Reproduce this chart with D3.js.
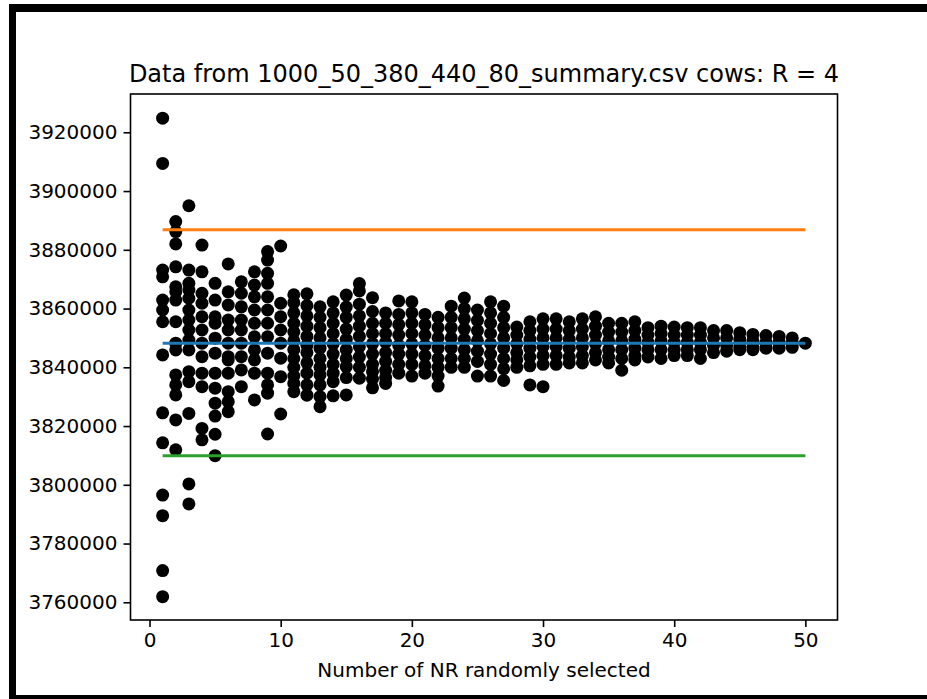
<!DOCTYPE html>
<html>
<head>
<meta charset="utf-8">
<script src="https://cdn.jsdelivr.net/npm/d3@7/dist/d3.min.js"></script>
<style>
  html, body { margin: 0; padding: 0; background: #fff; }
  svg { display: block; }
  text { font-family: "DejaVu Sans", sans-serif; fill: #000; }
</style>
</head>
<body>
<svg id="chart" width="927" height="699"></svg>
<script>
// Number of NR animals drawn in each sampling round
const nrSelected = d3.range(1, 51);

// Summary value of every sampling run, grouped by the number of NR selected
const runValues = [
  [3924800, 3909400, 3873100, 3870800, 3862900, 3859500, 3855500, 3844200, 3824500, 3814300, 3796500, 3789500, 3770800, 3761900],
  [3889600, 3886200, 3882000, 3874200, 3867400, 3865700, 3862900, 3855500, 3848200, 3845900, 3837400, 3834000, 3830600, 3822100, 3811900],
  [3895000, 3873100, 3868600, 3866300, 3863500, 3859500, 3856100, 3852700, 3849300, 3845900, 3838500, 3835100, 3824300, 3800300, 3793500],
  [3881600, 3872500, 3865200, 3861800, 3857200, 3852700, 3848200, 3843600, 3838000, 3833400, 3819200, 3815300],
  [3868600, 3862900, 3857200, 3855000, 3849900, 3844800, 3838000, 3832900, 3827800, 3823400, 3817200, 3809900],
  [3875200, 3865700, 3861200, 3856100, 3852700, 3848200, 3843600, 3842500, 3838000, 3831700, 3828300, 3824900],
  [3869100, 3865200, 3860600, 3856100, 3852700, 3848200, 3843600, 3839100, 3833400],
  [3872500, 3868000, 3864000, 3859500, 3855000, 3850400, 3845900, 3842500, 3838000, 3828900],
  [3879400, 3876500, 3872000, 3868600, 3864000, 3859500, 3855000, 3850400, 3844800, 3838000, 3834000, 3831200, 3817300],
  [3881300, 3861800, 3857200, 3852700, 3848200, 3843100, 3836800, 3824100],
  [3864700, 3862000, 3858500, 3855000, 3852000, 3849000, 3846000, 3843000, 3840000, 3837000, 3834500, 3831700],
  [3865000, 3861000, 3857500, 3854000, 3850500, 3847500, 3845000, 3841500, 3838000, 3834000, 3830500],
  [3860600, 3857000, 3853500, 3850000, 3846500, 3843000, 3840000, 3837400, 3834000, 3830000, 3826600],
  [3862300, 3858500, 3855000, 3851500, 3848000, 3844500, 3841000, 3838000, 3835100, 3830300],
  [3864600, 3860500, 3857000, 3853000, 3849500, 3846000, 3843000, 3840200, 3836500, 3830600],
  [3868500, 3866000, 3861500, 3857500, 3854000, 3850500, 3847000, 3843500, 3840000, 3836300],
  [3863700, 3859000, 3855000, 3851500, 3848000, 3844500, 3841000, 3838500, 3836000, 3833000],
  [3858500, 3855000, 3851500, 3848500, 3845000, 3842000, 3839000, 3836500, 3834500],
  [3862600, 3858000, 3854500, 3851000, 3847500, 3844500, 3841000, 3838000],
  [3862300, 3858500, 3855000, 3851500, 3848000, 3844500, 3841000, 3837000],
  [3858000, 3854500, 3851000, 3847500, 3844000, 3840500, 3838000],
  [3857000, 3853500, 3850000, 3846500, 3843000, 3840000, 3837000, 3833600],
  [3860800, 3857000, 3853500, 3850000, 3846500, 3843000, 3840000],
  [3863600, 3860000, 3856500, 3853000, 3849500, 3846000, 3843000, 3840000],
  [3859500, 3856000, 3852500, 3849000, 3845500, 3842000, 3837000],
  [3862300, 3858500, 3855000, 3851500, 3848000, 3844500, 3841000, 3837000],
  [3860800, 3857000, 3853500, 3850000, 3846500, 3843000, 3839500, 3835500],
  [3853700, 3851000, 3848000, 3845000, 3842500, 3840000],
  [3855500, 3852500, 3849500, 3846500, 3843500, 3840500, 3834000],
  [3856500, 3853000, 3850000, 3847000, 3844000, 3841000, 3833400],
  [3856500, 3853000, 3850000, 3847000, 3844000, 3841000],
  [3855500, 3852500, 3849500, 3846500, 3843500, 3841500],
  [3856500, 3853000, 3850000, 3847000, 3844000, 3841500],
  [3857200, 3854000, 3851000, 3848000, 3845000, 3842500],
  [3855000, 3852000, 3849000, 3846000, 3843500, 3841500],
  [3855000, 3852000, 3849000, 3846000, 3843000, 3839000],
  [3855500, 3852500, 3849500, 3846500, 3844000, 3842500],
  [3853500, 3851000, 3848500, 3846000, 3843500],
  [3854000, 3851500, 3849000, 3846000, 3843000],
  [3853700, 3851000, 3848500, 3846000, 3844000],
  [3853500, 3851000, 3848500, 3846000, 3844000],
  [3853500, 3851000, 3848500, 3846000, 3843000],
  [3852500, 3850000, 3847500, 3845000],
  [3852500, 3850000, 3847500, 3845500],
  [3851800, 3849500, 3847000, 3846000],
  [3851200, 3849000, 3847000, 3846000],
  [3850800, 3848500, 3846500],
  [3850500, 3848500, 3846500],
  [3850000, 3848200, 3846800],
  [3848200]
];

// Reference levels drawn across the full range of NR counts
const meanValue = 3848200;
const upperLevel = 3886800;
const lowerLevel = 3809900;

const xTicks = [0, 10, 20, 30, 40, 50];
const yTicks = [3760000, 3780000, 3800000, 3820000, 3840000, 3860000, 3880000, 3900000, 3920000];

const titleText = "Data from 1000_50_380_440_80_summary.csv cows: R = 4";
const xLabelText = "Number of NR randomly selected";

// Plot area
const plot = { left: 130.5, right: 837.5, top: 94, bottom: 620 };

const svg = d3.select("#chart");

const x = d3.scaleLinear().domain([-1.45, 52.45]).range([plot.left, plot.right]);
const y = d3.scaleLinear().domain([3753970, 3933040]).range([plot.bottom, plot.top]);

const points = [];
runValues.forEach((vals, i) => vals.forEach(v => points.push({ n: nrSelected[i], v })));

// Scatter of all runs
svg.append("g")
  .selectAll("circle")
  .data(points)
  .join("circle")
  .attr("cx", d => x(d.n))
  .attr("cy", d => y(d.v))
  .attr("r", 6.5)
  .attr("fill", "#000");

// Horizontal reference lines
const levels = [
  { v: upperLevel, c: "#ff7f0e" },
  { v: meanValue, c: "#1f77b4" },
  { v: lowerLevel, c: "#2ca02c" }
];
svg.append("g")
  .selectAll("line")
  .data(levels)
  .join("line")
  .attr("x1", x(nrSelected[0]))
  .attr("x2", x(nrSelected[nrSelected.length - 1]))
  .attr("y1", d => y(d.v))
  .attr("y2", d => y(d.v))
  .attr("stroke", d => d.c)
  .attr("stroke-width", 3);

// Axes
const xAxis = d3.axisBottom(x).tickValues(xTicks).tickSize(7).tickPadding(6).tickFormat(d3.format("d"));
const yAxis = d3.axisLeft(y).tickValues(yTicks).tickSize(7).tickPadding(6).tickFormat(d3.format("d"));

const gx = svg.append("g").attr("transform", `translate(0,${plot.bottom})`).call(xAxis);
const gy = svg.append("g").attr("transform", `translate(${plot.left},0)`).call(yAxis);
[gx, gy].forEach(g => {
  g.select(".domain").remove();
  g.selectAll(".tick line").attr("stroke", "#000").attr("stroke-width", 1.6);
  g.selectAll(".tick text").attr("font-size", 20).attr("font-family", "DejaVu Sans").attr("fill", "#000");
});

// Frame of the plot area
svg.append("rect")
  .attr("x", plot.left).attr("y", plot.top)
  .attr("width", plot.right - plot.left).attr("height", plot.bottom - plot.top)
  .attr("fill", "none").attr("stroke", "#000").attr("stroke-width", 1.6);

// Title and axis label
svg.append("text")
  .attr("x", (plot.left + plot.right) / 2).attr("y", 82)
  .attr("text-anchor", "middle").attr("font-size", 24)
  .text(titleText);

svg.append("text")
  .attr("x", (plot.left + plot.right) / 2).attr("y", 677)
  .attr("text-anchor", "middle").attr("font-size", 20)
  .text(xLabelText);

// Dark window border around the figure
svg.append("rect").attr("x", 9).attr("y", 4).attr("width", 918).attr("height", 8).attr("fill", "#000");
svg.append("rect").attr("x", 9).attr("y", 4).attr("width", 7).attr("height", 695).attr("fill", "#000");
svg.append("rect").attr("x", 9).attr("y", 695).attr("width", 918).attr("height", 4).attr("fill", "#000");
</script>
</body>
</html>
